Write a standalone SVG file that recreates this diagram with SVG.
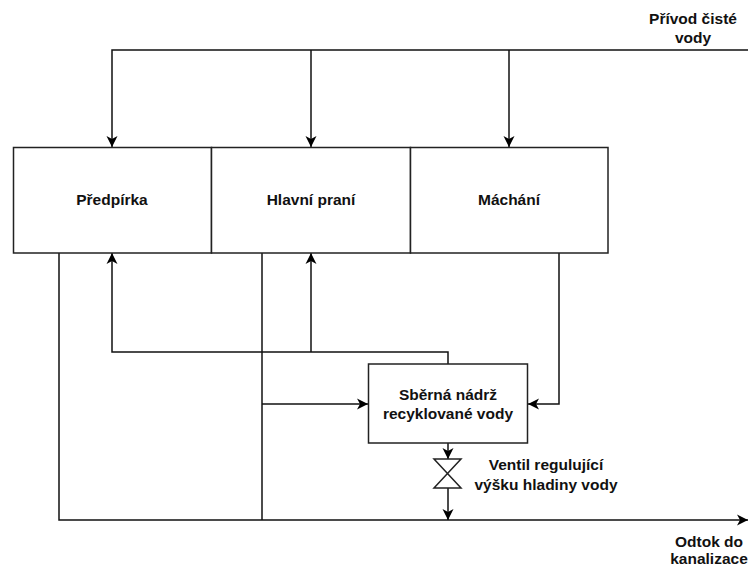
<svg xmlns="http://www.w3.org/2000/svg" width="749" height="567" viewBox="0 0 749 567">
<style>
.b{fill:#fff;stroke:#222;stroke-width:1.5}
.c{fill:none;stroke:#111;stroke-width:1.5}
text{font-family:"Liberation Sans",Arial,sans-serif;font-size:15.500px;font-weight:bold;fill:#111;text-anchor:middle}
</style>
<defs>
<marker id="a" markerUnits="userSpaceOnUse" markerWidth="12" markerHeight="14" refX="11" refY="6" orient="auto"><path d="M0 0.500L11 6L0 11.500L3 6Z" fill="#000"/></marker>
</defs>
<rect width="749" height="567" fill="#fff"/>
<g id="connectors">
<path class="c" d="M748 50H112V147" marker-end="url(#a)"/>
<path class="c" d="M311 50V147" marker-end="url(#a)"/>
<path class="c" d="M509 50V147" marker-end="url(#a)"/>
<path class="c" d="M448 364V352H112V253" marker-end="url(#a)"/>
<path class="c" d="M311 352V253" marker-end="url(#a)"/>
<path class="c" d="M59 253V520H748" marker-end="url(#a)"/>
<path class="c" d="M262 253V520"/>
<path class="c" d="M262 404H368" marker-end="url(#a)"/>
<path class="c" d="M559 253V404H528" marker-end="url(#a)"/>
<path class="c" d="M448 443V459" marker-end="url(#a)"/>
<path class="c" d="M448 488V520" marker-end="url(#a)"/>
</g>
<g id="predpirka"><rect class="b" x="13.500" y="147.500" width="198" height="105.500"/><text x="112" y="205">Předpírka</text></g>
<g id="hlavni-prani"><rect class="b" x="211.500" y="147.500" width="199" height="105.500"/><text x="311" y="205">Hlavní praní</text></g>
<g id="machani"><rect class="b" x="410.500" y="147.500" width="197.500" height="105.500"/><text x="509" y="205">Máchání</text></g>
<g id="nadrz"><rect class="b" x="368.500" y="364" width="159" height="79"/><text x="448" y="400">Sběrná nádrž</text><text x="448" y="419">recyklované vody</text></g>
<g id="ventil"><path class="b" d="M434 459H461L434 488H461Z"/><text x="546" y="470">Ventil regulující</text><text x="546" y="490">výšku hladiny vody</text></g>
<g id="privod"><text x="693" y="24">Přívod čisté</text><text x="693" y="43">vody</text></g>
<g id="odtok"><text x="709" y="547">Odtok do</text><text x="709" y="564">kanalizace</text></g>
</svg>
